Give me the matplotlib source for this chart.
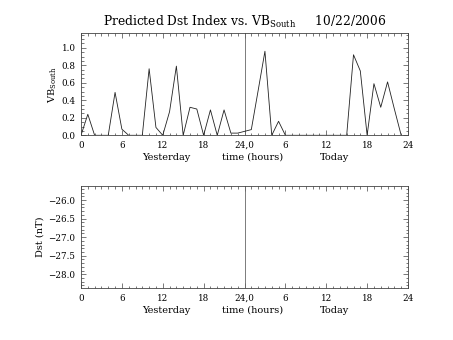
import matplotlib
matplotlib.use("Agg")
import matplotlib.pyplot as plt
from matplotlib.ticker import MultipleLocator, FixedLocator, FixedFormatter

plt.rcParams['font.family'] = ['DejaVu Serif']
plt.rcParams['mathtext.fontset'] = 'dejavuserif'

hours = list(range(48))
vb_south = [0.00, 0.24, 0.00, 0.00, 0.00, 0.49, 0.07, 0.00, 0.00, 0.00,
            0.76, 0.09, 0.00, 0.27, 0.79, 0.00, 0.32, 0.30, 0.00, 0.29,
            0.00, 0.29, 0.025, 0.025, 0.045, 0.065, 0.51, 0.96, 0.00, 0.16,
            0.00, 0.00, 0.00, 0.00, 0.00, 0.00, 0.00, 0.00, 0.00, 0.00,
            0.92, 0.735, 0.00, 0.59, 0.32, 0.61, 0.30, 0.00]
xtick_pos = [0, 6, 12, 18, 24, 30, 36, 42, 48]
xtick_labels = ['0', '6', '12', '18', '24,0', '6', '12', '18', '24']
vb_ticks = [0.0, 0.2, 0.4, 0.6, 0.8, 1.0]
dst_ticks = [-26.0, -26.5, -27.0, -27.5, -28.0]

W, H = 453, 340
fig = plt.figure(figsize=(W / 100, H / 100), dpi=100)

def ax_rect(x0, y0, x1, y1):
    return [x0 / W, 1 - y1 / H, (x1 - x0) / W, (y1 - y0) / H]

ax1 = fig.add_axes(ax_rect(81, 33.3, 408, 135.3))
ax2 = fig.add_axes(ax_rect(81, 186, 408, 288.3))

lc = '#222222'
for ax in (ax1, ax2):
    for s in ax.spines.values():
        s.set_linewidth(0.6)
        s.set_color('#444444')
    ax.set_xlim(0, 48)
    ax.xaxis.set_major_locator(FixedLocator(xtick_pos))
    ax.xaxis.set_major_formatter(FixedFormatter(xtick_labels))
    ax.xaxis.set_minor_locator(MultipleLocator(1))
    ax.tick_params(which='both', direction='in', top=True, right=True,
                   width=0.5, color='#444444', labelsize=6.3, pad=4)
    ax.tick_params(which='major', length=3.5)
    ax.tick_params(which='minor', length=1.8)
    ax.axvline(24, color='#666666', lw=0.6)
    ax.text(12.5, -0.215, 'Yesterday', transform=ax.get_xaxis_transform(),
            ha='center', va='center', fontsize=7)
    ax.text(25.2, -0.215, 'time (hours)', transform=ax.get_xaxis_transform(),
            ha='center', va='center', fontsize=7)
    ax.text(37.2, -0.215, 'Today', transform=ax.get_xaxis_transform(),
            ha='center', va='center', fontsize=7)

ax1.plot(hours, vb_south, color=lc, lw=0.6)
ax1.set_ylim(0, 1.165)
ax1.yaxis.set_major_locator(FixedLocator(vb_ticks))
ax1.yaxis.set_major_formatter(FixedFormatter(['%.1f' % v for v in vb_ticks]))
ax1.yaxis.set_minor_locator(MultipleLocator(0.05))
ax1.set_ylabel(r'VB$_{\mathrm{South}}$', fontsize=7, labelpad=2)
ax1.set_title(r'Predicted Dst Index vs. VB$_{\mathrm{South}}$     10/22/2006',
              fontsize=8.8, pad=5)

ax2.set_ylim(-28.38, -25.62)
ax2.yaxis.set_major_locator(FixedLocator(dst_ticks))
ax2.yaxis.set_major_formatter(FixedFormatter([('%.1f' % v).replace('-', '\u2212')
                                              for v in dst_ticks]))
ax2.yaxis.set_minor_locator(MultipleLocator(0.1))
ax2.set_ylabel('Dst (nT)', fontsize=7, labelpad=3)

fig.savefig('out.png', dpi=100)
